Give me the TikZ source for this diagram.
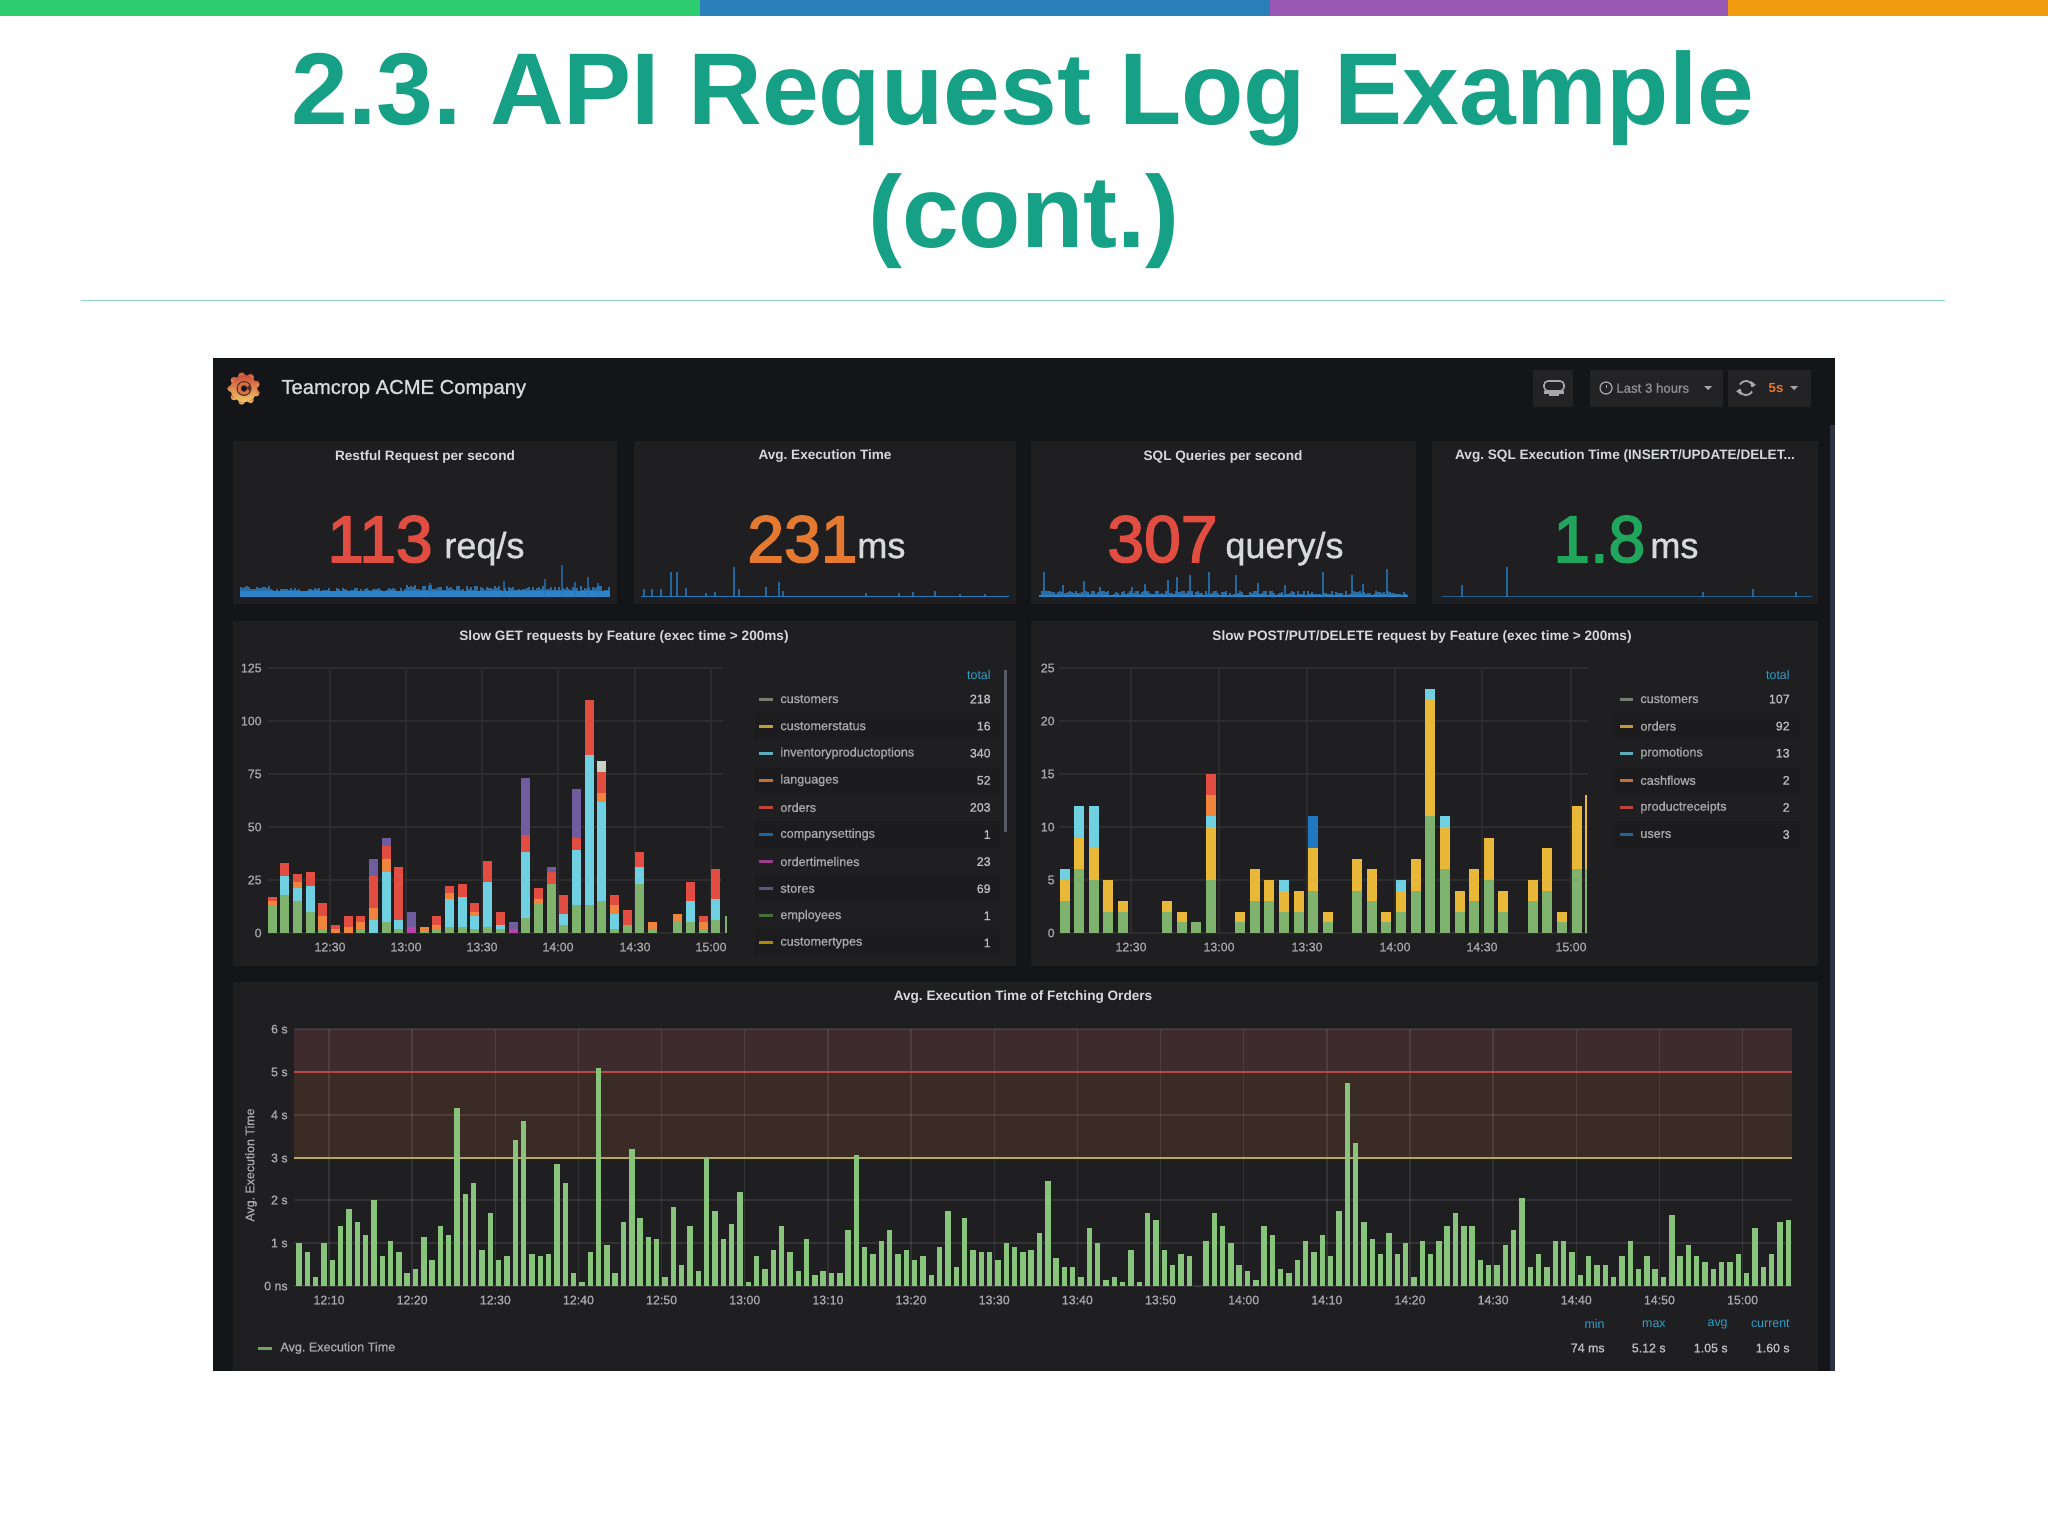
\documentclass[tikz,border=0pt]{standalone}
\usepackage{fontspec}
\setmainfont{Liberation Sans}
\newfontfamily\heavyf[FakeBold=2.5]{Liberation Sans}
\newfontfamily\softf[FakeBold=1]{Liberation Sans}
\definecolor{tealT}{HTML}{16A085}
\definecolor{topA}{HTML}{2ECC71}
\definecolor{topB}{HTML}{2980B9}
\definecolor{topC}{HTML}{9B59B6}
\definecolor{topD}{HTML}{F39C12}
\definecolor{ruleT}{HTML}{8FD3C5}
\definecolor{dashBg}{HTML}{141518}
\definecolor{panelBg}{HTML}{1F1F22}
\definecolor{stripe}{HTML}{1C1C1F}
\definecolor{btnBg}{HTML}{232325}
\definecolor{scrollC}{HTML}{2E3240}
\definecolor{txtL}{HTML}{D8D9DA}
\definecolor{txtM}{HTML}{A8A8AA}
\definecolor{txtV}{HTML}{BEBEC0}
\definecolor{tot}{HTML}{2F9FC8}
\definecolor{cG}{HTML}{7EB26D}
\definecolor{cY}{HTML}{EAB839}
\definecolor{cC}{HTML}{6ED0E0}
\definecolor{cO}{HTML}{EF843C}
\definecolor{cR}{HTML}{E24D42}
\definecolor{cB}{HTML}{1F78C1}
\definecolor{cP}{HTML}{BA43A9}
\definecolor{cV}{HTML}{705DA0}
\definecolor{cW}{HTML}{C9D0C4}
\definecolor{cL}{HTML}{8E9688}
\definecolor{cD}{HTML}{508642}
\definecolor{cK}{HTML}{CCA300}
\definecolor{spark}{HTML}{2379BE}
\definecolor{sparkT}{HTML}{2E88D0}
\definecolor{vred}{HTML}{E24D42}
\definecolor{vorg}{HTML}{E5792F}
\definecolor{vgrn}{HTML}{1FA55C}
\definecolor{barG}{HTML}{88C47B}
\definecolor{zoneR}{HTML}{3D2B2E}
\definecolor{zoneO}{HTML}{3A2C24}
\definecolor{lineR}{HTML}{B9474A}
\definecolor{lineY}{HTML}{B9A856}
\definecolor{gridL}{HTML}{2D2D30}
\definecolor{logoA}{HTML}{C9503A}
\definecolor{logoB}{HTML}{F2C766}
\tikzset{
  x=0.5pt,y=-0.5pt,
  bigtitle/.style={inner sep=0pt,text=tealT,font=\bfseries\fontsize{51}{60}\selectfont,anchor=base},
  ptitle/.style={inner sep=0pt,text=txtL,font=\bfseries\fontsize{6.8}{8}\selectfont},
  bigval/.style={inner sep=0pt,anchor=base west,font=\heavyf\fontsize{33}{36}\selectfont},
  unitv/.style={inner sep=0pt,anchor=base west,text=txtL,font=\softf\fontsize{18}{20}\selectfont},
  ticktext/.style={inner sep=0pt,text=txtM,font=\softf\fontsize{6.2}{7}\selectfont},
  lgname/.style={inner sep=0pt,anchor=west,text=txtM,font=\softf\fontsize{6.3}{7}\selectfont},
  lgval/.style={inner sep=0pt,anchor=east,text=txtV,font=\softf\fontsize{6.2}{7}\selectfont},
  lgtot/.style={inner sep=0pt,anchor=east,text=tot,font=\fontsize{6.2}{7}\selectfont},
  hgrid/.style={draw=gridL,line width=0.6pt},
  zgrid/.style={draw=white,draw opacity=0.09,line width=0.7pt},
  panelbox/.style={fill=panelBg},
  sparkline/.style={draw=spark,line width=0.7pt},
}
\newcommand{\stk}[2]{%
  \pgfmathsetmacro{\bxx}{\bxo+\bdx*#1}%
  \gdef\bsum{0}%
  \foreach \cc/\vv in {#2}{%
    \pgfmathsetmacro{\bnew}{\bsum+\vv}%
    \fill[c\cc] ({\bxx-\bw/2},{\byo-\bsum*\bun}) rectangle ({\bxx+\bw/2},{\byo-\bnew*\bun});
    \global\let\bsum\bnew
  }%
}
\newcommand{\sparkband}[4]{% x0, x1, min, range
  \pgfmathtruncatemacro{\xnext}{#1+2}%
  \foreach \xx in {#1,\xnext,...,#2}{%
    \pgfmathsetmacro{\hh}{#3+rnd*#4}%
    \fill[sparkT,fill opacity=0.75] (\xx,597) rectangle ({\xx+2},{597-\hh});
  }%
}
\begin{document}
\frenchspacing
\begin{tikzpicture}
\pgfmathsetseed{17}
\useasboundingbox (0,0) rectangle (2048,1536);
\fill[white] (0,0) rectangle (2048,1536);
% top strip
\fill[topA] (0,0) rectangle (700,16);
\fill[topB] (700,0) rectangle (1270,16);
\fill[topC] (1270,0) rectangle (1728,16);
\fill[topD] (1728,0) rectangle (2048,16);
% title
\node[bigtitle] (t1) at (1023,125) {2.3. API Request Log Example};
\node[bigtitle] (t2) at (1024,247) {(cont.)};
\draw[ruleT,line width=0.6pt] (81,300.5) -- (1945,300.5);
% dashboard
\fill[dashBg] (213,358) rectangle (1835,1371);
\fill[scrollC] (1830,425) rectangle (1835,1371);
% panels
\fill[panelbox] (233,441) rectangle (617,604);
\fill[panelbox] (634,441) rectangle (1016,604);
\fill[panelbox] (1031,441) rectangle (1416,604);
\fill[panelbox] (1432,441) rectangle (1818,604);
\fill[panelbox] (233,621) rectangle (1016,966);
\fill[panelbox] (1031,621) rectangle (1818,966);
\fill[panelbox] (233,982) rectangle (1818,1371);
% header: logo
\foreach \a in {0,40,...,320}{
  \shade[top color=logoA,bottom color=logoB,shading angle=0] ({244+13*cos(\a+20)},{388.5+13*sin(\a+20)}) circle (3.4);
}
\shade[top color=logoA,bottom color=logoB] (244,388.5) circle (13.5);
\fill[dashBg!60!logoA] (244,388.5) circle (7.5);
\draw[logoA!70!logoB,line width=1.4pt] (244,388.5) ++(20:5) arc (20:330:5);
\fill[dashBg] (244,388.5) circle (2.4);
\node[inner sep=0pt,anchor=west,text=txtL,font=\softf\fontsize{10.1}{12}\selectfont] (brand) at (281,389) {Teamcrop ACME Company};
% header: buttons
\fill[btnBg] (1533,370) rectangle (1573,407);
\fill[btnBg] (1590,370) rectangle (1723,407);
\fill[btnBg] (1728,370) rectangle (1811,407);
\draw[txtM,line width=0.8pt,rounded corners=2pt] (1544,381) rectangle (1564,391);
\fill[txtM] (1544,391) rectangle (1564,394);
\fill[txtM] (1549,394) rectangle (1559,396);
\draw[txtM,line width=0.6pt] (1606,388) circle (6);
\draw[txtM,line width=0.5pt] (1606,384.5) -- (1606,388);
\node[inner sep=0pt,anchor=west,text=txtM!85!black,font=\softf\fontsize{6.6}{8}\selectfont] (lasth) at (1616,388) {Last 3 hours};
\fill[txtM] (1704,386) -- (1712,386) -- (1708,390) -- cycle;
\draw[txtM,line width=0.9pt] (1746,388) ++(30:7) arc (30:170:7);
\draw[txtM,line width=0.9pt] (1746,388) ++(210:7) arc (210:350:7);
\fill[txtM] (1751,381) -- (1756,385) -- (1751,387) -- cycle;
\fill[txtM] (1741,395) -- (1736,391) -- (1741,389) -- cycle;
\node[inner sep=0pt,anchor=center,text=vorg,font=\bfseries\fontsize{6.6}{8}\selectfont] (refr) at (1776,388) {5s};
\fill[txtM] (1790,386) -- (1798,386) -- (1794,390) -- cycle;
% row 1 titles
\node[ptitle] (p1) at (425,456.5) {Restful Request per second};
\node[ptitle] (p2) at (825,456.5) {Avg. Execution Time};
\node[ptitle] (p3) at (1223,456.5) {SQL Queries per second};
\node[ptitle] (p4) at (1625,456.5) {Avg. SQL Execution Time (INSERT/UPDATE/DELET...};
% big values
\node[bigval,text=vred] (v1) at (327,562) {113};
\node[unitv] (u1) at (444,558) {req/s};
\node[bigval,text=vorg] (v2) at (747,562) {231};
\node[unitv] (u2) at (857,558) {ms};
\node[bigval,text=vred] (v3) at (1107,562) {307};
\node[unitv] (u3) at (1225,558) {query/s};
\node[bigval,text=vgrn] (v4) at (1553,562) {1.8};
\node[unitv] (u4) at (1650,558) {ms};
% sparklines
\fill[spark] (240,591) rectangle (610,597);
\sparkband{240}{270}{8}{3}
\sparkband{272}{405}{6}{3}
\sparkband{406}{450}{7}{5}
\sparkband{452}{608}{6}{5}
\foreach \xx/\hh in {430/14,504/16,545/18,562/32,588/20,575/15,598/14}{\draw[sparkline,draw opacity=0.7] (\xx,597) -- (\xx,{597-\hh});}
\draw[sparkline] (641,596.5) -- (1009,596.5);
\foreach \xx/\hh in {644/8,652/8,661/8,671/25,677/25,686/9,706/4,715/5,734/30,739/8,766/10,779/15,783/6,866/4,899/4,913/5,935/6,960/3,985/3}{\draw[sparkline,draw opacity=0.8] (\xx,597) -- (\xx,{597-\hh});}
\fill[spark] (1039,594.5) rectangle (1408,597);
\sparkband{1039}{1405}{2}{4.5}
\foreach \xx/\hh in {1044/25,1063/12,1084/16,1100/10,1132/10,1145/13,1168/17,1177/20,1190/22,1209/25,1236/22,1258/14,1285/12,1323/25,1352/22,1363/13,1387/28}{\draw[sparkline,draw opacity=0.8] (\xx,597) -- (\xx,{597-\hh});}
\draw[sparkline,draw opacity=0.7] (1442,596.5) -- (1812,596.5);
\foreach \xx/\hh in {1462/12,1507/30,1703/5,1753/8,1796/5}{\draw[sparkline,draw opacity=0.8] (\xx,597) -- (\xx,{597-\hh});}
% row 2 titles
\node[ptitle] (p5) at (624,636.5) {Slow GET requests by Feature (exec time > 200ms)};
\node[ptitle] (p6) at (1422,636.5) {Slow POST/PUT/DELETE request by Feature (exec time > 200ms)};
% chart 5 grid
\foreach \vv/\yy in {0/933,25/880,50/827,75/774,100/721,125/668}{
  \draw[hgrid] (268,\yy) -- (723,\yy);
  \node[ticktext,anchor=east] (a5-\vv) at (262,\yy) {\vv};
}
\foreach \lb/\xx in {12:30/330,13:00/406,13:30/482,14:00/558,14:30/635,15:00/711}{
  \draw[hgrid] (\xx,668) -- (\xx,933);
  \node[ticktext] (b5-\xx) at (\xx,947) {\lb};
}
% chart 5 bars
\def\bxo{272.1}\def\bdx{12.68}\def\bw{9}\def\byo{933}\def\bun{2.12}
\stk{0}{G/13,O/2,R/2}
\stk{1}{G/18,C/9,R/6}
\stk{2}{G/15,C/6,O/3,R/4}
\stk{3}{G/10,C/12,R/7}
\stk{4}{G/2,O/6,R/6}
\stk{5}{O/2,R/2}
\stk{6}{O/3,R/5}
\stk{7}{G/2,O/3,R/3}
\stk{8}{C/6,O/6,R/15,V/8}
\stk{9}{G/5,C/24,O/6,R/6,V/4}
\stk{10}{G/2,C/4,R/25}
\stk{11}{P/3,V/7}
\stk{12}{G/1,O/2}
\stk{13}{G/2,O/2,R/4}
\stk{14}{G/3,C/13,O/3,R/3}
\stk{15}{G/3,C/14,R/6}
\stk{16}{G/2,C/6,O/2,R/4}
\stk{17}{G/3,C/21,R/10}
\stk{18}{G/2,C/2,R/6}
\stk{19}{P/2,V/3}
\stk{20}{G/7,C/31,R/8,V/27}
\stk{21}{G/14,O/2,R/5}
\stk{22}{G/23,R/6,V/2}
\stk{23}{G/4,C/5,R/9}
\stk{24}{G/13,C/26,R/6,V/23}
\stk{25}{G/13,C/71,R/26}
\stk{26}{G/15,C/47,O/4,R/10,W/5}
\stk{27}{G/2,C/7,O/4,R/5}
\stk{28}{G/4,R/7}
\stk{29}{G/23,C/8,R/7}
\stk{30}{G/2,O/3}
\stk{32}{G/5,O/4}
\stk{33}{G/5,C/10,R/9}
\stk{34}{G/2,O/3,R/3}
\stk{35}{G/6,C/10,R/14}
\def\bxo{725.8}\def\bdx{0}\def\bw{2}
\stk{0}{G/8}
% chart 5 legend
\foreach \yy in {726,780,834,888,942}{\fill[stripe] (755,{\yy-13.5}) rectangle (1000,{\yy+13.5});}
\fill[scrollC!80!white] (1003.5,670) rectangle (1006.5,832);
\node[lgtot] (tot5) at (991,675) {total};
\foreach \nm/\val/\col [count=\k from 0] in {customers/218/cL,customerstatus/16/cY,inventoryproductoptions/340/cC,languages/52/cO,orders/203/cR,companysettings/1/cB,ordertimelines/23/cP,stores/69/cV,employees/1/cD,customertypes/1/cK}{
  \pgfmathsetmacro{\yy}{699+27.1*\k}
  \fill[\col!80!panelBg] (759,{\yy-1.5}) rectangle (773,{\yy+1.5});
  \node[lgname] (ln5-\k) at (780,\yy) {\nm};
  \node[lgval] (lv5-\k) at (991,\yy) {\val};
}
% chart 6 grid
\foreach \vv/\yy in {0/933,5/880,10/827,15/774,20/721,25/668}{
  \draw[hgrid] (1059,\yy) -- (1588,\yy);
  \node[ticktext,anchor=east] (a6-\vv) at (1055,\yy) {\vv};
}
\foreach \lb/\xx in {12:30/1131,13:00/1219,13:30/1307,14:00/1395,14:30/1482,15:00/1571}{
  \draw[hgrid] (\xx,668) -- (\xx,933);
  \node[ticktext] (b6-\xx) at (\xx,947) {\lb};
}
% chart 6 bars
\def\bxo{1064.5}\def\bdx{14.63}\def\bw{10}\def\byo{933}\def\bun{10.6}
\stk{0}{G/3,Y/2,C/1}
\stk{1}{G/6,Y/3,C/3}
\stk{2}{G/5,Y/3,C/4}
\stk{3}{G/2,Y/3}
\stk{4}{G/2,Y/1}
\stk{7}{G/2,Y/1}
\stk{8}{G/1,Y/1}
\stk{9}{G/1}
\stk{10}{G/5,Y/5,C/1,O/2,R/2}
\stk{12}{G/1,Y/1}
\stk{13}{G/3,Y/3}
\stk{14}{G/3,Y/2}
\stk{15}{G/2,Y/2,C/1}
\stk{16}{G/2,Y/2}
\stk{17}{G/4,Y/4,B/3}
\stk{18}{G/1,Y/1}
\stk{20}{G/4,Y/3}
\stk{21}{G/3,Y/3}
\stk{22}{G/1,Y/1}
\stk{23}{G/2,Y/2,C/1}
\stk{24}{G/4,Y/3}
\stk{25}{G/11,Y/11,C/1}
\stk{26}{G/6,Y/4,C/1}
\stk{27}{G/2,Y/2}
\stk{28}{G/3,Y/3}
\stk{29}{G/5,Y/4}
\stk{30}{G/2,Y/2}
\stk{32}{G/3,Y/2}
\stk{33}{G/4,Y/4}
\stk{34}{G/1,Y/1}
\stk{35}{G/6,Y/6}
\def\bxo{1586}\def\bdx{0}\def\bw{2}
\stk{0}{G/6,Y/7}
% chart 6 legend
\foreach \yy in {726,780,834}{\fill[stripe] (1612,{\yy-13.5}) rectangle (1800,{\yy+13.5});}
\node[lgtot] (tot6) at (1790,675) {total};
\foreach \nm/\val/\col [count=\k from 0] in {customers/107/cL,orders/92/cY,promotions/13/cC,cashflows/2/cO,productreceipts/2/cR,users/3/cB}{
  \pgfmathsetmacro{\yy}{699+27.1*\k}
  \fill[\col!80!panelBg] (1620,{\yy-1.5}) rectangle (1633,{\yy+1.5});
  \node[lgname] (ln6-\k) at (1640,\yy) {\nm};
  \node[lgval] (lv6-\k) at (1790,\yy) {\val};
}
% chart 7
\node[ptitle] (p7) at (1023,996.5) {Avg. Execution Time of Fetching Orders};
\fill[zoneR] (294,1029) rectangle (1792,1072);
\fill[zoneO] (294,1072) rectangle (1792,1158);
\foreach \lb/\yy in {6 s/1029,5 s/1072,4 s/1115,3 s/1158,2 s/1200,1 s/1243,0 ns/1286}{
  \draw[zgrid] (294,\yy) -- (1792,\yy);
  \node[ticktext,anchor=east] (a7-\yy) at (288,\yy) {\lb};
}
\foreach \lb [count=\k from 0] in {12:10,12:20,12:30,12:40,12:50,13:00,13:10,13:20,13:30,13:40,13:50,14:00,14:10,14:20,14:30,14:40,14:50,15:00}{
  \pgfmathsetmacro{\xx}{329+83.15*\k}
  \draw[zgrid] (\xx,1029) -- (\xx,1286);
  \node[ticktext] (b7-\k) at (\xx,1300) {\lb};
}
\draw[lineR,line width=0.8pt] (294,1072) -- (1792,1072);
\draw[lineY,line width=0.8pt] (294,1158) -- (1792,1158);
\foreach \vv [count=\k from 0] in {1.0,.8,.2,1.0,.6,1.4,1.8,1.5,1.2,2.0,.7,1.05,.8,.3,.4,1.15,.6,1.4,1.2,4.15,2.15,2.4,.85,1.7,.6,.7,3.4,3.85,.75,.7,.75,2.85,2.4,.3,.1,.8,5.1,.95,.3,1.5,3.2,1.6,1.15,1.1,.2,1.85,.5,1.4,.35,3.0,1.75,1.1,1.45,2.2,.1,.7,.4,.85,1.4,.8,.35,1.1,.25,.35,.3,.3,1.3,3.05,.9,.75,1.05,1.3,.75,.85,.6,.7,.25,.9,1.75,.45,1.6,.85,.8,.8,.6,1.0,.9,.8,.85,1.25,2.45,.65,.45,.45,.2,1.35,1.0,.15,.2,.1,.85,.1,1.7,1.55,.85,.5,.75,.7,0,1.05,1.7,1.4,1.0,.5,.35,.15,1.4,1.2,.4,.3,.6,1.05,.8,1.2,.7,1.75,4.75,3.35,1.5,1.1,.75,1.25,.75,1.0,.2,1.05,.75,1.05,1.4,1.7,1.4,1.4,.6,.5,.5,.95,1.3,2.05,.45,.75,.45,1.05,1.05,.8,.25,.7,.5,.5,.2,.7,1.05,.4,.7,.4,.2,1.65,.7,.95,.7,.55,.4,.55,.55,.75,.3,1.35,.45,.75,1.5,1.55}{
  \pgfmathsetmacro{\xx}{299+8.32*\k}
  \fill[barG] ({\xx-2.7},1286) rectangle ({\xx+2.7},{1286-\vv*42.8});
}
\node[inner sep=0pt,rotate=90,text=txtM,font=\softf\fontsize{6.2}{7}\selectfont] (ylab) at (251,1165) {Avg. Execution Time};
\fill[barG!80!panelBg] (258,1346.5) rectangle (272,1349.5);
\node[lgname] (leg7) at (280,1348) {Avg. Execution Time};
\foreach \lb/\vl/\xx in {min/74 ms/1605,max/5.12 s/1666,avg/1.05 s/1728,current/1.60 s/1790}{
  \node[lgtot] (h-\lb) at (\xx,1324) {\lb};
  \node[lgval] (w-\lb) at (\xx,1348) {\vl};
}
\end{tikzpicture}
\end{document}
